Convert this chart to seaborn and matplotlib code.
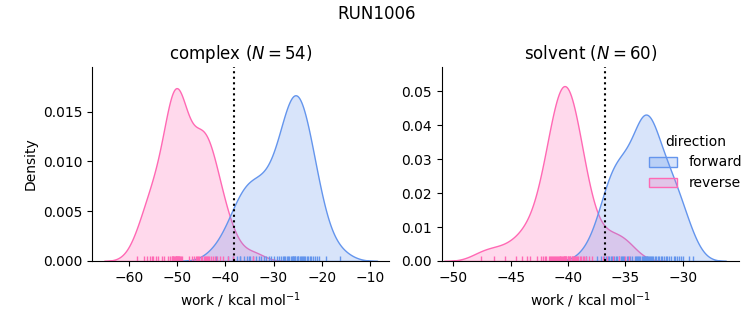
import numpy as np
import pandas as pd
import seaborn as sns
import matplotlib
matplotlib.use("Agg")
import matplotlib.pyplot as plt

# ---- data (work values, kcal/mol) ----
complex_forward = [-42.0, -39.5, -38.4, -37.6, -37.0, -36.9, -36.2, -35.5, -35.0, -34.8,
                   -34.2, -33.6, -33.0, -32.5, -32.0, -31.0, -30.0, -25.9, -30.5, -31.5,
                   -29.2, -28.8, -28.4, -28.0, -27.8, -27.6, -27.3, -27.0, -26.7, -26.4,
                   -26.1, -26.0, -25.8, -25.5, -25.2, -25.0, -24.9, -24.6, -24.3, -24.0,
                   -23.9, -23.7, -23.4, -23.1, -22.8, -22.5, -22.2, -21.8, -21.4, -21.0,
                   -20.5, -25.6, -19.2, -16.2]
complex_reverse = [-58.3, -57.0, -56.2, -55.6, -55.3, -55.0, -54.5, -54.0, -50.25, -53.2,
                   -52.8, -51.0, -52.0, -50.6, -51.4, -51.1, -50.9, -50.8, -50.5, -50.35,
                   -50.2, -50.0, -49.9, -49.75, -49.6, -49.45, -49.3, -49.0, -49.7, -50.05,
                   -47.6, -47.0, -46.5, -46.0, -45.9, -45.7, -45.4, -45.1, -44.8, -44.5,
                   -44.2, -44.0, -43.9, -43.6, -43.3, -43.0, -42.6, -42.2, -41.7, -41.1,
                   -40.4, -39.5, -38.5, -34.2]
solvent_forward = [-38.4, -37.5, -37.1, -36.9, -36.7, -36.5, -36.3, -36.2, -36.0, -35.8,
                   -35.7, -35.6, -35.4, -35.3, -35.2, -35.1, -34.9, -34.8, -33.35, -34.6,
                   -33.15, -34.4, -32.95, -34.2, -34.1, -34.0, -33.9, -33.8, -33.7, -33.6,
                   -33.5, -33.4, -33.3, -33.2, -33.1, -33.0, -32.9, -32.8, -32.7, -32.6,
                   -32.4, -32.3, -32.2, -32.1, -31.9, -31.8, -31.6, -31.5, -31.4, -31.2,
                   -31.0, -30.8, -30.7, -30.5, -30.3, -30.2, -30.0, -36.4, -29.5, -29.1]
solvent_reverse = [-47.6, -46.5, -45.5, -44.5, -44.0, -43.6,
                   -43.3, -42.7, -42.4, -42.2, -42.0, -41.9, -41.7, -41.6, -41.5, -41.4,
                   -41.3, -41.2, -41.1, -41.05, -40.95, -40.9, -40.8, -40.75, -40.7, -40.6,
                   -40.55, -40.45, -40.4, -40.33, -40.27, -40.2, -40.15, -40.05, -40.0, -39.9,
                   -39.85, -39.8, -39.7, -39.65, -39.55, -39.5, -39.4, -39.3, -39.2, -39.1,
                   -39.0, -38.9, -38.7, -38.6, -38.4, -38.2, -37.9, -40.3,
                   -37.0, -36.6, -36.1, -35.6, -35.0, -34.7]

phases = ["complex", "solvent"]
phase_n = [54, 60]
dg_estimates = [-38.3, -36.8]
directions = ["forward", "reverse"]
colors = ["#6495ED", "#FF69B4"]

rows = []
for ph, fw, rv in [("complex", complex_forward, complex_reverse),
                   ("solvent", solvent_forward, solvent_reverse)]:
    for w in fw:
        rows.append((ph, "forward", w))
    for w in rv:
        rows.append((ph, "reverse", w))
df = pd.DataFrame(rows, columns=["phase", "direction", "work"])

g = sns.displot(data=df, x="work", hue="direction", col="phase", kind="kde",
                fill=True, rug=True, col_order=phases, hue_order=directions,
                palette=dict(zip(directions, colors)),
                facet_kws=dict(sharex=False, sharey=False),
                height=3.25, aspect=1.0)

fig = g.figure
fig.set_size_inches(7.53, 3.25)
fig.set_dpi(100)

xlims = [(-67.7, -6.0), (-51.0, -25.1)]
ylims = [(0, 0.0195), (0, 0.0572)]
for ax, ph, n, dg, xl, yl in zip(g.axes.flat, phases, phase_n, dg_estimates, xlims, ylims):
    ax.axvline(dg, color="k", ls=":", lw=1.5)
    ax.set_title(f"{ph} ($N = {n}$)", fontsize=12)
    ax.set_xlim(*xl)
    ax.set_ylim(*yl)
    ax.set_xlabel("work / kcal mol$^{-1}$")

g.axes.flat[0].set_ylabel("Density")
g.axes.flat[1].set_ylabel("")
g.axes.flat[0].set_yticks([0, 0.005, 0.010, 0.015])
g.axes.flat[1].set_yticks([0, 0.01, 0.02, 0.03, 0.04, 0.05])

fig.suptitle("RUN1006", fontsize=12, y=0.985)
fig.subplots_adjust(left=0.1222, right=0.9814, bottom=0.197, top=0.794, wspace=0.178)
sns.move_legend(g, "center right", bbox_to_anchor=(1.002, 0.5), frameon=False)

fig.savefig("out.png", dpi=100)
